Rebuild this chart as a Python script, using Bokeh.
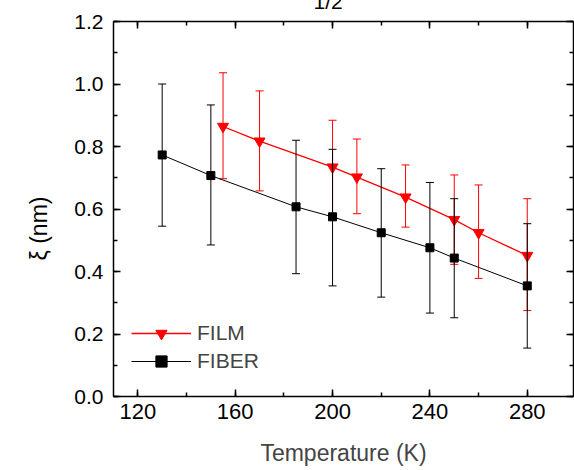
from bokeh.plotting import figure
from bokeh.models import (LinearAxis, SingleIntervalTicker, PrintfTickFormatter, Legend,
                          LegendItem, Title, ColumnDataSource, CustomJSTickFormatter)
from bokeh.embed import file_html
from bokeh.resources import INLINE

# ---- data ----
fiber_T = [130, 150, 185, 200, 220, 240, 250, 280]
fiber_xi = [0.773, 0.707, 0.607, 0.575, 0.524, 0.476, 0.443, 0.354]
fiber_lo = [0.545, 0.485, 0.393, 0.354, 0.318, 0.267, 0.252, 0.155]
fiber_hi = [1.000, 0.933, 0.820, 0.791, 0.729, 0.685, 0.633, 0.553]

film_T = [155, 170, 200, 210, 230, 250, 260, 280]
film_xi = [0.864, 0.817, 0.734, 0.702, 0.638, 0.566, 0.524, 0.451]
film_lo = [0.697, 0.658, 0.584, 0.585, 0.542, 0.423, 0.378, 0.275]
film_hi = [1.036, 0.978, 0.884, 0.824, 0.741, 0.709, 0.677, 0.633]

x_label = "Temperature (K)"
y_label = "ξ (nm)"
top_fragment = "1/2"

FONT = "Liberation Sans"
RED = "#ff0000"
BLACK = "#000000"
SHIFT = 40  # extra top border that is pushed above the window (the reference is cropped there)

p = figure(width=574, height=470 + SHIFT, x_range=(110, 299), y_range=(0, 1.2000001),
           output_backend="svg", toolbar_location=None,
           min_border_left=113, min_border_right=1, min_border_top=21 + SHIFT,
           min_border_bottom=74)
p.styles = {"margin-top": f"-{SHIFT}px"}
p.xgrid.visible = False
p.ygrid.visible = False
p.outline_line_color = None
p.background_fill_color = "white"
p.border_fill_color = "white"

xt = SingleIntervalTicker(interval=40, num_minor_ticks=2)
yt = SingleIntervalTicker(interval=0.2, num_minor_ticks=2)

def style_axis(ax, labels=True):
    ax.axis_line_width = 1.5
    ax.axis_line_color = BLACK
    ax.major_tick_in = 7
    ax.major_tick_out = 0
    ax.minor_tick_in = 4
    ax.minor_tick_out = 0
    ax.major_tick_line_width = 1.5
    ax.minor_tick_line_width = 1.5
    ax.major_tick_line_color = BLACK
    ax.minor_tick_line_color = BLACK
    ax.major_label_text_font = FONT
    ax.major_label_text_color = BLACK
    if not labels:
        ax.formatter = CustomJSTickFormatter(code="return ''")
        ax.major_label_text_font_size = "1px"
        ax.major_label_standoff = 0
        ax.axis_label = None

xa = p.xaxis[0]
xa.ticker = xt
xa.formatter = PrintfTickFormatter(format="%d")
style_axis(xa)
xa.major_label_text_font_size = "22px"
xa.major_label_standoff = 7
xa.axis_label = x_label
xa.axis_label_text_font = FONT
xa.axis_label_text_font_size = "23px"
xa.axis_label_text_font_style = "normal"
xa.axis_label_standoff = 18

ya = p.yaxis[0]
ya.ticker = yt
ya.formatter = PrintfTickFormatter(format="%.1f")
style_axis(ya)
ya.major_label_text_font_size = "21px"
ya.major_label_standoff = 10

top = LinearAxis(ticker=xt)
style_axis(top, labels=False)
p.add_layout(top, "above")
right = LinearAxis(ticker=yt)
style_axis(right, labels=False)
p.add_layout(right, "right")

# ---- FILM (red, drawn first) ----
film_src = ColumnDataSource(dict(x=film_T, y=film_xi, lo=film_lo, hi=film_hi))
p.segment(x0="x", y0="lo", x1="x", y1="hi", source=film_src, line_color=RED, line_width=1)
p.scatter(x="x", y="lo", source=film_src, marker="dash", size=8, line_color=RED, line_width=1)
p.scatter(x="x", y="hi", source=film_src, marker="dash", size=8, line_color=RED, line_width=1)
r_film_line = p.line(x="x", y="y", source=film_src, line_color=RED, line_width=1.3)
r_film_pts = p.scatter(x="x", y="y", source=film_src, marker="inverted_triangle", size=11,
                       fill_color=RED, line_color=RED)

# ---- FIBER (black, on top) ----
fib_src = ColumnDataSource(dict(x=fiber_T, y=fiber_xi, lo=fiber_lo, hi=fiber_hi))
p.segment(x0="x", y0="lo", x1="x", y1="hi", source=fib_src, line_color=BLACK, line_width=1)
p.scatter(x="x", y="lo", source=fib_src, marker="dash", size=8, line_color=BLACK, line_width=1)
p.scatter(x="x", y="hi", source=fib_src, marker="dash", size=8, line_color=BLACK, line_width=1)
r_fib_line = p.line(x="x", y="y", source=fib_src, line_color=BLACK, line_width=1)
r_fib_pts = p.scatter(x="x", y="y", source=fib_src, marker="square", size=8,
                      fill_color=BLACK, line_color=BLACK)

legend = Legend(items=[LegendItem(label="FILM", renderers=[r_film_line, r_film_pts]),
                       LegendItem(label="FIBER", renderers=[r_fib_line, r_fib_pts])],
                location=(18, 21), padding=0, margin=0, spacing=0,
                glyph_width=60, glyph_height=28, label_height=28, label_standoff=6,
                label_text_font=FONT, label_text_font_size="21px",
                background_fill_alpha=0, border_line_color=None)
p.add_layout(legend)

# y axis title on the left side, placed a little below centre as in the reference
p.add_layout(Title(text=y_label, align="left", offset=136, standoff=39,
                   text_font=FONT, text_font_size="23px", text_font_style="normal",
                   text_color=BLACK), "left")

# cut-off fragment at the very top (mostly above the window, like the reference)
p.title.text = top_fragment
p.title.align = "left"
p.title.offset = 200
p.title.standoff = 18
p.title.text_font = FONT
p.title.text_font_size = "21px"
p.title.text_font_style = "normal"
p.title.text_color = BLACK

open("out.html", "w").write(file_html(p, INLINE))
